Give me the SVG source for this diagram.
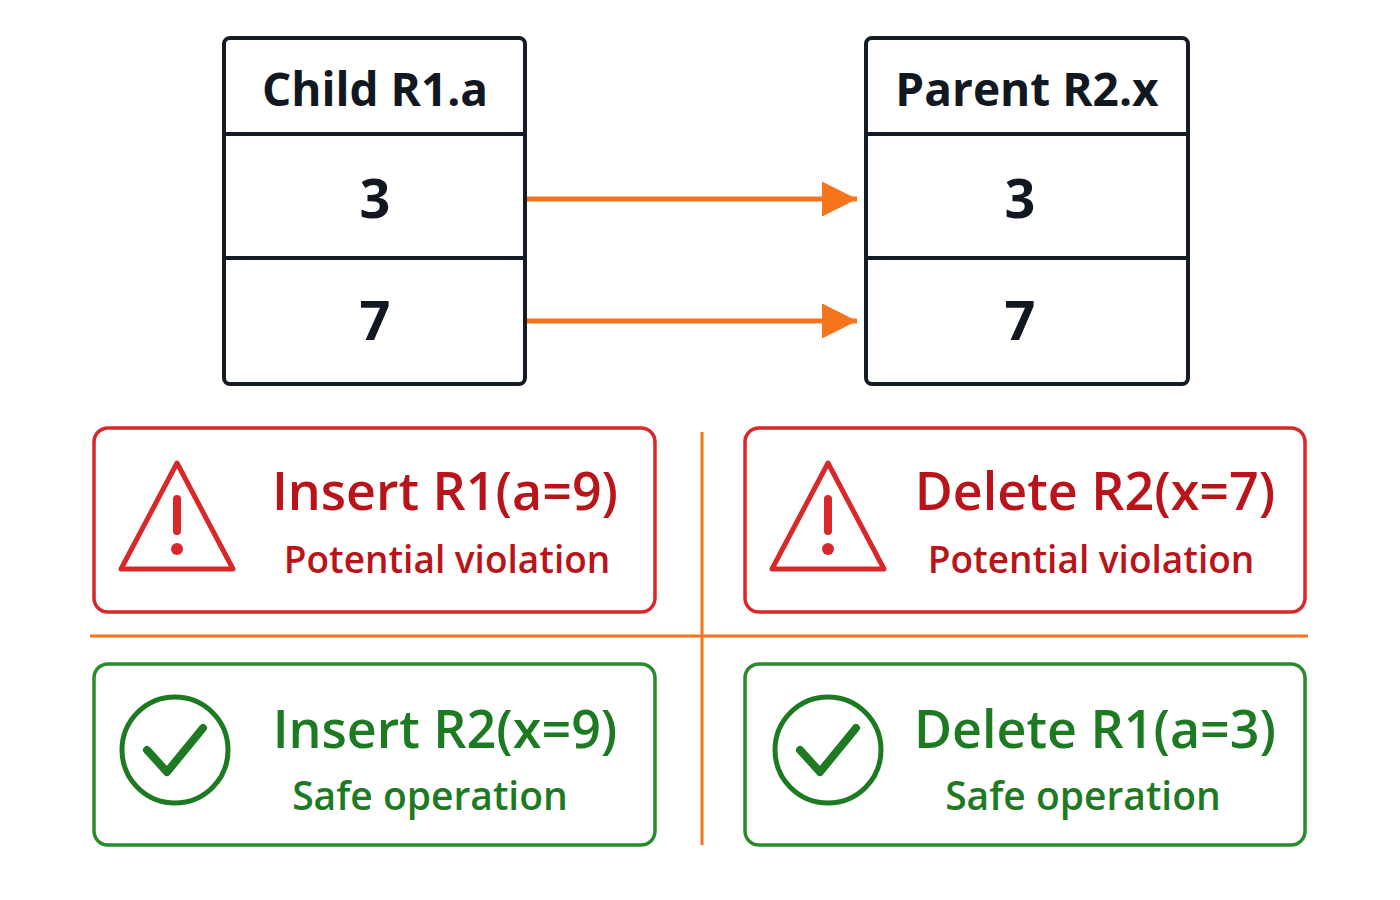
<svg xmlns="http://www.w3.org/2000/svg" width="1400" height="900" viewBox="0 0 1400 900">
<style>
.tb{fill:#fff;stroke:#161c26;stroke-width:4}
.ln{stroke:#161c26;stroke-width:4}
.tt{font-family:"Open Sans","Liberation Sans",sans-serif;font-weight:700;fill:#111822;text-anchor:middle}
.red{fill:#fff;stroke:#d8282a;stroke-width:3.5}
.grn{fill:#fff;stroke:#2a8a2e;stroke-width:3.5}
.rt{font-family:"Open Sans","Liberation Sans",sans-serif;font-weight:600;fill:#b8141a;text-anchor:middle}
.gt{font-family:"Open Sans","Liberation Sans",sans-serif;font-weight:600;fill:#1d7a22;text-anchor:middle}
.ar{stroke:#f5741c;stroke-width:5;fill:none}
</style>
<defs>
<marker id="ah" markerWidth="8" markerHeight="8" refX="7" refY="4" orient="auto" markerUnits="strokeWidth"><path d="M0,0.5 L7,4 L0,7.5Z" fill="#f5741c"/></marker>
<g id="warn"><path d="M0,-56 L56,50 L-56,50Z" fill="none" stroke="#d8282a" stroke-width="5" stroke-linejoin="round"/><rect x="-4" y="-24" width="8" height="40" rx="4" fill="#d8282a"/><circle cx="0" cy="30" r="6" fill="#d8282a"/></g>
<g id="ok"><circle r="53" fill="none" stroke="#1d7a22" stroke-width="5"/><path d="M-28,0 L-8,22 L28,-22" fill="none" stroke="#1d7a22" stroke-width="8" stroke-linecap="round" stroke-linejoin="round"/></g>
</defs>
<rect width="1400" height="900" fill="#fff"/>
<g id="child">
<rect class="tb" x="224" y="38" width="301" height="346" rx="6"/>
<line class="ln" x1="224" y1="134" x2="525" y2="134"/><line class="ln" x1="224" y1="258" x2="525" y2="258"/>
<text class="tt" x="375" y="106" font-size="46">Child R1.a</text>
<text class="tt" x="375" y="218" font-size="54">3</text>
<text class="tt" x="375" y="340" font-size="54">7</text>
</g>
<g id="parent">
<rect class="tb" x="866" y="38" width="322" height="346" rx="6"/>
<line class="ln" x1="866" y1="134" x2="1188" y2="134"/><line class="ln" x1="866" y1="258" x2="1188" y2="258"/>
<text class="tt" x="1027" y="106" font-size="46">Parent R2.x</text>
<text class="tt" x="1020" y="218" font-size="54">3</text>
<text class="tt" x="1020" y="340" font-size="54">7</text>
</g>
<g id="connectors">
<line class="ar" x1="527" y1="199" x2="857" y2="199" marker-end="url(#ah)"/>
<line class="ar" x1="527" y1="321" x2="857" y2="321" marker-end="url(#ah)"/>
<line x1="90" y1="636" x2="1308" y2="636" stroke="#f5741c" stroke-width="3"/>
<line x1="702" y1="432" x2="702" y2="845" stroke="#f5741c" stroke-width="3"/>
</g>
<g id="ins-r1">
<rect class="red" x="94" y="428" width="561" height="184" rx="14"/>
<use href="#warn" x="177" y="519"/>
<text class="rt" x="445" y="510" font-size="52">Insert R1(a=9)</text>
<text class="rt" x="447" y="573" font-size="37">Potential violation</text>
</g>
<g id="del-r2">
<rect class="red" x="745" y="428" width="560" height="184" rx="14"/>
<use href="#warn" x="828" y="519"/>
<text class="rt" x="1095" y="510" font-size="52">Delete R2(x=7)</text>
<text class="rt" x="1091" y="573" font-size="37">Potential violation</text>
</g>
<g id="ins-r2">
<rect class="grn" x="94" y="664" width="561" height="181" rx="14"/>
<use href="#ok" x="175" y="750"/>
<text class="gt" x="445" y="748" font-size="52">Insert R2(x=9)</text>
<text class="gt" x="430" y="810" font-size="39">Safe operation</text>
</g>
<g id="del-r1">
<rect class="grn" x="745" y="664" width="560" height="181" rx="14"/>
<use href="#ok" x="828" y="750"/>
<text class="gt" x="1095" y="748" font-size="52">Delete R1(a=3)</text>
<text class="gt" x="1083" y="810" font-size="39">Safe operation</text>
</g>
</svg>
